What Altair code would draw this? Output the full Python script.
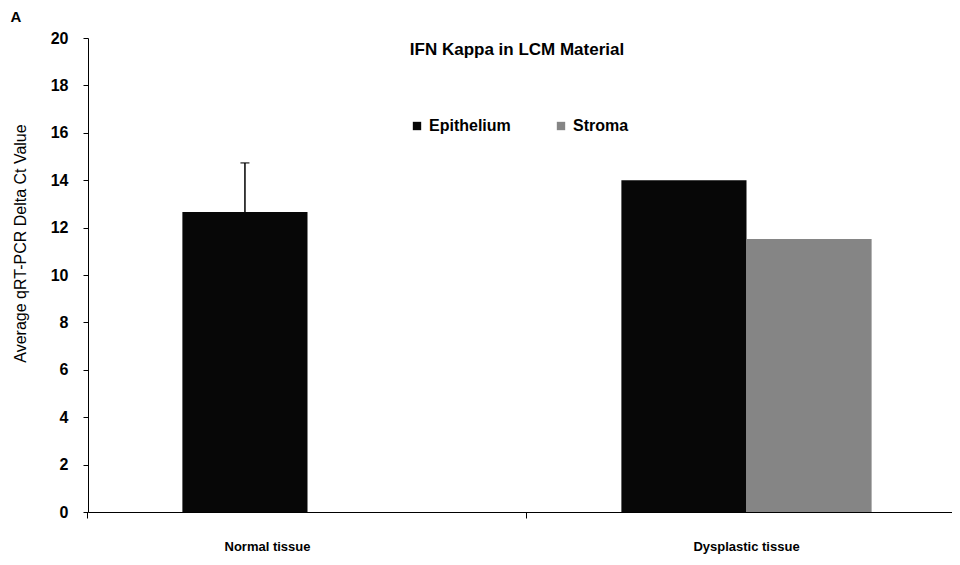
import altair as alt
import pandas as pd

categories = ["Normal tissue", "Dysplastic tissue"]
series = ["Epithelium", "Stroma"]
epithelium = [12.66, 14.0]
stroma = [None, 11.52]
epithelium_err = [2.07, None]
y_ticks = list(range(0, 21, 2))
title_text = "IFN Kappa in LCM Material"
panel_label = "A"
y_title = "Average qRT-PCR Delta  Ct Value"

rows = []
for c, e, s, err in zip(categories, epithelium, stroma, epithelium_err):
    if e is not None:
        rows.append(dict(cat=c, series="Epithelium", value=e,
                         upper=(e + err) if err is not None else None))
    if s is not None:
        rows.append(dict(cat=c, series="Stroma", value=s, upper=None))
df = pd.DataFrame(rows)

FONT = "Liberation Sans"

x_enc = alt.X(
    "cat:N",
    sort=categories,
    scale=alt.Scale(domain=categories, range=[0, 878], paddingInner=0.43, paddingOuter=0.215),
    axis=alt.Axis(
        title=None, labelAngle=0, labelFont=FONT, labelFontSize=13, labelFontWeight="bold",
        labelColor="black", domainColor="black", tickColor="black", tickSize=6,
        bandPosition=-0.378, labelPadding=22,
        labelOffset={"condition": {"test": "datum.value === 'Normal tissue'", "value": -40}, "value": 0},
    ),
)
xo_enc = alt.XOffset("series:N", scale=alt.Scale(domain=series, paddingInner=0, paddingOuter=0))

y_enc = alt.Y(
    "value:Q",
    scale=alt.Scale(domain=[0, 20]),
    axis=alt.Axis(
        values=y_ticks, title=y_title, grid=False, labelFont=FONT, labelFontSize=16,
        labelFontWeight="bold", labelColor="black", domainColor="black", tickColor="black",
        tickSize=5, labelPadding=15, titleFont=FONT, titleFontSize=16, titleFontWeight="normal",
        titleColor="black", titleY=205, titlePadding=22,
    ),
)

bars = alt.Chart(df).mark_bar().encode(
    x=x_enc,
    xOffset=xo_enc,
    y=y_enc,
    color=alt.Color(
        "series:N",
        scale=alt.Scale(domain=series, range=["#070707", "#858585"]),
        legend=alt.Legend(
            title=None, orient="none", legendX=321, legendY=80, direction="horizontal",
            symbolType="square", symbolSize=70, symbolStrokeWidth=0, labelFont=FONT,
            labelFontSize=16, labelFontWeight="bold", labelColor="black", columnPadding=42,
        ),
    ),
)

err_df = df.dropna(subset=["upper"])
err_rule = alt.Chart(err_df).mark_rule(color="black", strokeWidth=1.5).encode(
    x=alt.X("cat:N", sort=categories),
    xOffset=alt.XOffset("series:N"),
    y="value:Q",
    y2="upper:Q",
)
err_cap = alt.Chart(err_df).mark_tick(color="black", thickness=1.5, size=9, orient="horizontal").encode(
    x=alt.X("cat:N", sort=categories),
    xOffset=alt.XOffset("series:N"),
    y="upper:Q",
)

title_mark = alt.Chart(pd.DataFrame({"t": [title_text]})).mark_text(
    font=FONT, fontSize=17, fontWeight="bold", color="black"
).encode(text="t:N", x=alt.value(429), y=alt.value(12))

a_mark = alt.Chart(pd.DataFrame({"t": [panel_label]})).mark_text(
    font=FONT, fontSize=15, fontWeight="bold", color="black"
).encode(text="t:N", x=alt.value(-72), y=alt.value(-21))

chart = alt.layer(bars, err_rule, err_cap, title_mark, a_mark).properties(
    width=864, height=474,
    autosize=alt.AutoSizeParams(type="none"),
    padding={"left": 80, "top": 30, "right": 0, "bottom": 45},
    background="white",
).configure_view(stroke=None)

chart.save("out.html", embed_options={"renderer": "svg", "actions": False})
